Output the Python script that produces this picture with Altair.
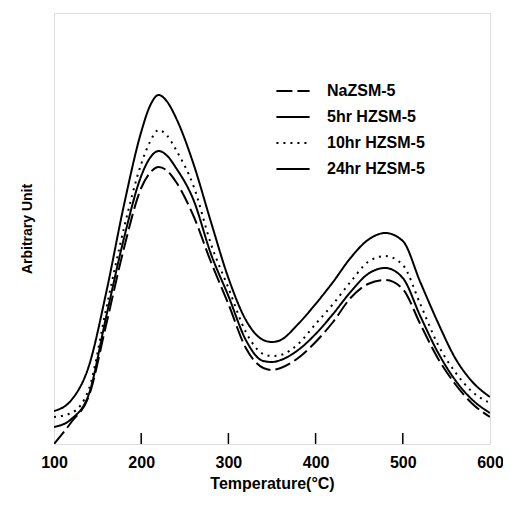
import altair as alt
import pandas as pd

temps = [100, 120, 140, 160, 180, 200, 210, 220, 230, 240, 260, 280, 300, 320,
         340, 350, 360, 380, 400, 420, 440, 460, 480, 500, 520, 540, 560, 580, 600]

na_zsm5 = [0, 22, 48, 120, 195, 256, 271, 277, 273, 262, 228, 182, 140, 96,
           76, 74, 76, 86, 102, 122, 146, 160, 164, 155, 120, 86, 60, 40, 27]
hr5 = [17, 25, 50, 128, 205, 268, 286, 293, 288, 276, 244, 190, 148, 104,
       83, 82, 84, 94, 110, 130, 152, 170, 176, 166, 128, 92, 64, 44, 31]
hr10 = [27, 31, 55, 136, 215, 280, 302, 314, 308, 294, 258, 200, 156, 112,
        90, 88, 89, 100, 120, 140, 162, 182, 188, 179, 140, 100, 72, 52, 41]
hr24 = [33, 44, 78, 152, 238, 312, 338, 349, 342, 326, 280, 222, 166, 124,
        104, 102, 104, 120, 140, 162, 186, 204, 211, 203, 162, 122, 86, 62, 47]

series_names = ["NaZSM-5", "5hr HZSM-5", "10hr HZSM-5", "24hr HZSM-5"]
series_values = [na_zsm5, hr5, hr10, hr24]
x_ticks = [200, 300, 400, 500]
x_labels = [100, 200, 300, 400, 500, 600]

rows = []
for name, vals in zip(series_names, series_values):
    for t, v in zip(temps, vals):
        rows.append({"T": t, "v": v, "series": name})
df = pd.DataFrame(rows)
ticks_df = pd.DataFrame({"T": x_ticks})

W, H = 436, 431
FONT = "Liberation Sans"

xscale = alt.Scale(domain=[100, 600], nice=False, zero=False)

lines = alt.Chart(df).mark_line(strokeWidth=2, color="black", interpolate="monotone", clip=True).encode(
    x=alt.X("T:Q", scale=xscale,
            axis=alt.Axis(values=x_labels, title="Temperature(°C)", grid=False, domain=False,
                          ticks=False, labelFontSize=16, labelFontWeight="bold", labelFont=FONT,
                          labelPadding=10, labelColor="black", titleFontSize=16,
                          titleFontWeight="bold", titleFont=FONT, titlePadding=5,
                          titleColor="black", labelFlush=False)),
    y=alt.Y("v:Q", scale=alt.Scale(domain=[0, H], nice=False),
            axis=alt.Axis(title="Arbitrary Unit", labels=False, ticks=False, domain=False,
                          grid=False, titleFontSize=14, titleFontWeight="bold", titleFont=FONT,
                          titleColor="black", titlePadding=20)),
    strokeDash=alt.StrokeDash(
        "series:N",
        sort=series_names,
        scale=alt.Scale(domain=series_names,
                        range=[[16, 5], [1, 0], [2, 5], [1, 0]]),
        legend=alt.Legend(title=None, orient="none", legendX=221, legendY=60,
                          symbolType="stroke", symbolSize=1100, symbolStrokeWidth=2,
                          symbolStrokeColor="black", labelFontSize=16, labelFontWeight="bold",
                          labelFont=FONT, labelColor="black", rowPadding=0, labelOffset=16),
    ),
    detail="series:N",
)

tick_marks = alt.Chart(ticks_df).mark_rule(color="black", strokeWidth=1.5).encode(
    x=alt.X("T:Q", scale=xscale),
    y=alt.value(H),
    y2=alt.value(H - 11),
)

chart = alt.layer(lines, tick_marks).properties(
    width=W, height=H,
    autosize=alt.AutoSizeParams(type="none"),
    padding={"left": 46, "top": 5, "right": 13, "bottom": 52},
).configure_view(stroke="black", strokeWidth=1.5).configure(background="white")

chart.save("out.html", embed_options={"renderer": "svg", "actions": False})
